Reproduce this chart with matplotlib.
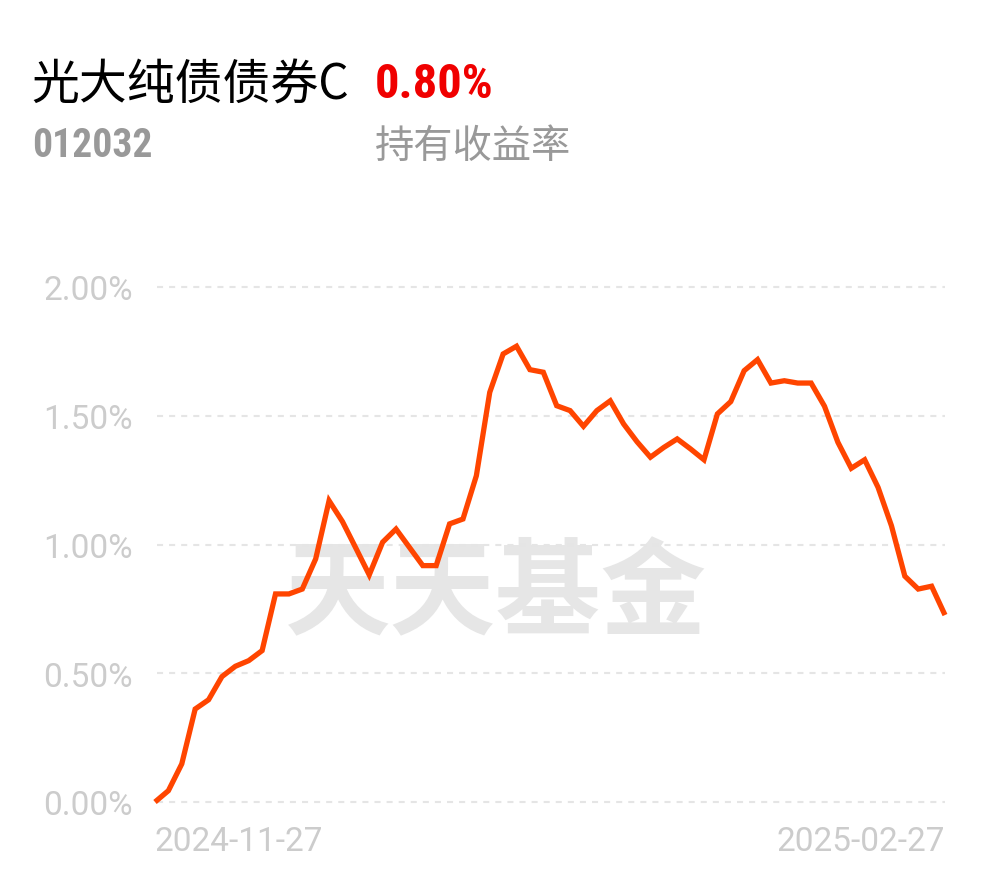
import matplotlib.pyplot as plt
from matplotlib import font_manager

# holding return (%) per trading day, 2024-11-27 .. 2025-02-27
returns = [0.00, 0.044, 0.148, 0.361, 0.397, 0.487, 0.527, 0.549, 0.588, 0.808,
           0.808, 0.827, 0.944, 1.170, 1.089, 0.986, 0.882, 1.009, 1.060, 0.989,
           0.918, 0.918, 1.080, 1.099, 1.267, 1.591, 1.740, 1.770, 1.679, 1.669,
           1.539, 1.520, 1.459, 1.520, 1.558, 1.468, 1.399, 1.339, 1.377, 1.410,
           1.371, 1.329, 1.507, 1.555, 1.675, 1.718, 1.627, 1.636, 1.627, 1.627,
           1.537, 1.397, 1.296, 1.329, 1.222, 1.073, 0.877, 0.827, 0.838, 0.726]
date_labels = ["2024-11-27", "2025-02-27"]
y_ticks = [0.0, 0.5, 1.0, 1.5, 2.0]

fund_name = "光大纯债债券C"
fund_code = "012032"
hold_return = "0.80%"
hold_label = "持有收益率"

cjk = ['Noto Sans CJK SC', 'DejaVu Sans']

# a condensed face for the numbers, if one is around
narrow = None
for fam in ['Roboto Condensed', 'Liberation Sans Narrow', 'DejaVu Sans Condensed',
            'Open Sans Condensed', 'Noto Sans Condensed']:
    try:
        font_manager.findfont(font_manager.FontProperties(family=fam, weight='bold'),
                              fallback_to_default=False)
        narrow = fam
        break
    except Exception:
        pass

W, H = 990, 878
fig = plt.figure(figsize=(W / 100, H / 100), dpi=100)
ax = fig.add_axes([155 / W, (H - 803) / H, 790 / W, 515 / H])

def px(x, y):
    return x / W, 1 - y / H

fig.text(*px(31, 86), fund_name, family=cjk, fontsize=34.5, color='black', va='center', ha='left')
if narrow:
    fig.text(*px(375, 85), hold_return, family=narrow, fontweight='bold', fontsize=35,
             color='#f00000', va='center', ha='left')
    fig.text(*px(32, 146), fund_code, family=narrow, fontweight='bold', fontsize=28.5,
             color='#999999', va='center', ha='left')
else:
    fig.text(*px(375, 85), hold_return, family='Roboto', fontweight='bold', fontsize=30,
             color='#f00000', va='center', ha='left')
    fig.text(*px(32, 146), fund_code, family='Roboto', fontweight='bold', fontsize=24,
             color='#999999', va='center', ha='left')
fig.text(*px(375, 147), hold_label, family=cjk, fontsize=28.3, color='#999999', va='center', ha='left')

# watermark
fig.text(*px(496, 596), "天天基金", family=cjk, fontweight='bold', fontsize=76,
         color='#e6e6e6', va='center', ha='center', zorder=0)
ax.set_zorder(1)
ax.patch.set_alpha(0)

x = list(range(len(returns)))
ax.plot(x, returns, color='#ff4500', lw=3.8, clip_on=False, zorder=3,
        solid_joinstyle='miter', solid_capstyle='butt')

for yt in y_ticks:
    ax.axhline(yt, xmin=2 / 790, color='#e5e5e5', lw=1.5, ls=(0, (2.9, 2.9)), zorder=1, clip_on=False)

ax.set_xlim(0, len(returns) - 1)
ax.set_ylim(0, 2)
ax.set_yticks(y_ticks)
ax.set_yticklabels([f"{v:.2f}%" for v in y_ticks])
ax.set_xticks([0, len(returns) - 1])
ax.set_xticklabels(date_labels)
xl = ax.get_xticklabels()
xl[0].set_ha('left')
xl[1].set_ha('right')

ax.tick_params(axis='y', length=0, pad=16, labelsize=24, labelcolor='#cccccc')
ax.tick_params(axis='x', length=0, pad=16.5, labelsize=24, labelcolor='#cccccc')
for lab in ax.get_xticklabels() + ax.get_yticklabels():
    lab.set_family('Roboto')
for s in ax.spines.values():
    s.set_visible(False)

fig.savefig('out.png', dpi=100)
